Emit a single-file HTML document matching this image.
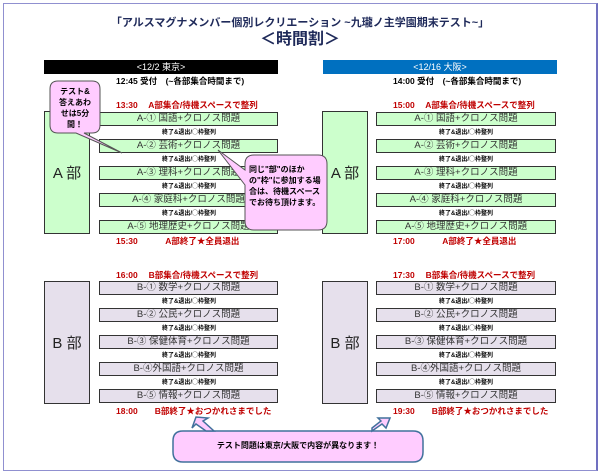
<!DOCTYPE html>
<html><head><meta charset="utf-8"><style>
*{margin:0;padding:0;box-sizing:border-box}
body{width:600px;height:474px;background:#fff;position:relative;overflow:hidden;font-family:"Liberation Sans","Noto Sans CJK JP",sans-serif}
.a{position:absolute}
.t{position:absolute;white-space:nowrap;line-height:1}
.big{position:absolute;border:1.5px solid #333;font-size:15px;display:flex;align-items:center;justify-content:center;color:#222}
.it{position:absolute;border:1.5px solid #333;font-size:9.5px;text-align:center;line-height:11px;color:#333;height:14px;overflow:hidden}
.g{background:#ccffcc}.p{background:#e6e0ec}
.gap{position:absolute;font-size:6px;font-weight:bold;text-align:center;width:180px;line-height:1}
.red{color:#c00000;font-weight:bold;font-size:8.5px}
.blk{font-weight:bold;font-size:8.5px;color:#000}
</style></head><body>
<div class="a" style="left:3px;top:3px;width:595px;height:468px;border:1px solid #9090d0;border-right:2px solid #7070c0"></div>
<div class="t" style="left:0;width:600px;text-align:center;top:18px;font-size:11px;font-weight:bold;color:#1f2a5a">「アルスマグナメンバー個別レクリエーション ~九瓏ノ主学園期末テスト~」</div>
<div class="t" style="left:0;width:600px;text-align:center;top:32px;font-size:16px;font-weight:bold;color:#1f2a5a">＜時間割＞</div>

<div class="a" style="left:44px;top:60px;width:234px;height:14px;background:#000;color:#fff;font-size:9px;text-align:center;line-height:14px">&lt;12/2 東京&gt;</div>
<div class="a" style="left:323px;top:60px;width:234px;height:14px;background:#0070c0;color:#fff;font-size:9px;text-align:center;line-height:14px">&lt;12/16 大阪&gt;</div>

<div class="t blk" style="left:116px;top:77px">12:45 受付　(~各部集合時間まで)</div>
<div class="t blk" style="left:393px;top:77px">14:00 受付　(~各部集合時間まで)</div>

<!-- A left -->
<div class="t red" style="left:116px;top:101px">13:30　 A部集合/待機スペースで整列</div>
<div class="big g" style="left:44px;top:111px;width:46px;height:123px">A 部</div>
<div class="it g" style="left:99px;top:112px;width:179px">A-① 国語+クロノス問題</div>
<div class="gap" style="left:99px;top:130px">終了&amp;退出/◯枠整列</div>
<div class="it g" style="left:99px;top:139px;width:179px">A-② 芸術+クロノス問題</div>
<div class="gap" style="left:99px;top:157px">終了&amp;退出/◯枠整列</div>
<div class="it g" style="left:99px;top:166px;width:179px">A-③ 理科+クロノス問題</div>
<div class="gap" style="left:99px;top:184px">終了&amp;退出/◯枠整列</div>
<div class="it g" style="left:99px;top:193px;width:179px">A-④ 家庭科+クロノス問題</div>
<div class="gap" style="left:99px;top:211px">終了&amp;退出/◯枠整列</div>
<div class="it g" style="left:99px;top:220px;width:179px">A-⑤ 地理歴史+クロノス問題</div>
<div class="t red" style="left:116px;top:237px">15:30　　　 A部終了★全員退出</div>

<!-- A right -->
<div class="t red" style="left:393px;top:101px">15:00　 A部集合/待機スペースで整列</div>
<div class="big g" style="left:322px;top:111px;width:46px;height:123px">A 部</div>
<div class="it g" style="left:376px;top:112px;width:180px">A-① 国語+クロノス問題</div>
<div class="gap" style="left:376px;top:130px">終了&amp;退出/◯枠整列</div>
<div class="it g" style="left:376px;top:139px;width:180px">A-② 芸術+クロノス問題</div>
<div class="gap" style="left:376px;top:157px">終了&amp;退出/◯枠整列</div>
<div class="it g" style="left:376px;top:166px;width:180px">A-③ 理科+クロノス問題</div>
<div class="gap" style="left:376px;top:184px">終了&amp;退出/◯枠整列</div>
<div class="it g" style="left:376px;top:193px;width:180px">A-④ 家庭科+クロノス問題</div>
<div class="gap" style="left:376px;top:211px">終了&amp;退出/◯枠整列</div>
<div class="it g" style="left:376px;top:220px;width:180px">A-⑤ 地理歴史+クロノス問題</div>
<div class="t red" style="left:393px;top:237px">17:00　　　 A部終了★全員退出</div>

<!-- B left -->
<div class="t red" style="left:116px;top:271px">16:00　 B部集合/待機スペースで整列</div>
<div class="big p" style="left:44px;top:281px;width:46px;height:123px">B 部</div>
<div class="it p" style="left:99px;top:281px;width:179px">B-① 数学+クロノス問題</div>
<div class="gap" style="left:99px;top:299px">終了&amp;退出/◯枠整列</div>
<div class="it p" style="left:99px;top:308px;width:179px">B-② 公民+クロノス問題</div>
<div class="gap" style="left:99px;top:326px">終了&amp;退出/◯枠整列</div>
<div class="it p" style="left:99px;top:335px;width:179px">B-③ 保健体育+クロノス問題</div>
<div class="gap" style="left:99px;top:353px">終了&amp;退出/◯枠整列</div>
<div class="it p" style="left:99px;top:362px;width:179px">B-④外国語+クロノス問題</div>
<div class="gap" style="left:99px;top:380px">終了&amp;退出/◯枠整列</div>
<div class="it p" style="left:99px;top:389px;width:179px">B-⑤ 情報+クロノス問題</div>
<div class="t red" style="left:116px;top:407px">18:00　　B部終了★おつかれさまでした</div>

<!-- B right -->
<div class="t red" style="left:393px;top:271px">17:30　 B部集合/待機スペースで整列</div>
<div class="big p" style="left:322px;top:281px;width:46px;height:123px">B 部</div>
<div class="it p" style="left:376px;top:281px;width:180px">B-① 数学+クロノス問題</div>
<div class="gap" style="left:376px;top:299px">終了&amp;退出/◯枠整列</div>
<div class="it p" style="left:376px;top:308px;width:180px">B-② 公民+クロノス問題</div>
<div class="gap" style="left:376px;top:326px">終了&amp;退出/◯枠整列</div>
<div class="it p" style="left:376px;top:335px;width:180px">B-③ 保健体育+クロノス問題</div>
<div class="gap" style="left:376px;top:353px">終了&amp;退出/◯枠整列</div>
<div class="it p" style="left:376px;top:362px;width:180px">B-④外国語+クロノス問題</div>
<div class="gap" style="left:376px;top:380px">終了&amp;退出/◯枠整列</div>
<div class="it p" style="left:376px;top:389px;width:180px">B-⑤ 情報+クロノス問題</div>
<div class="t red" style="left:393px;top:407px">19:30　　B部終了★おつかれさまでした</div>

<svg class="a" style="left:0;top:0" width="600" height="474">
 <g fill="#ffccff" stroke="#555" stroke-width="1">
  <path d="M58,81 H92 Q100,81 100,89 V125 Q100,133 92,133 H84 L122,153 L76,133 H58 Q50,133 50,125 V89 Q50,81 58,81 Z"/>
  <path d="M254,155 H318 Q327,155 327,164 V221 Q327,230 318,230 H254 Q245,230 245,221 V185 L218,150 L245,170 V164 Q245,155 254,155 Z"/>
 </g>
 <g fill="#ffccff" stroke="#41719c" stroke-width="1.5">
  <path d="M183,431 H413 Q423,431 423,441 V452 Q423,462 413,462 H183 Q173,462 173,452 V441 Q173,431 183,431 Z"/>
  <path d="M206,431 L196,424 L192,428 L196,417 L208,418 L203,421 L214,431 Z"/>
  <path d="M372,431 L382,424 L386,428 L390,418 L378,418 L381,421 L372,428 Z"/>
 </g>
</svg>
<div class="t" style="left:50px;top:86px;width:50px;text-align:center;font-size:8px;font-weight:bold;line-height:11px;white-space:normal">テスト&amp;<br>答えあわ<br>せは5分<br>間！</div>
<div class="t" style="left:249px;top:164px;width:76px;font-size:8px;font-weight:bold;line-height:11px;white-space:normal">同じ"部"のほかの"枠"に参加する場合は、待機スペースでお待ち頂けます。</div>
<div class="t" style="left:173px;top:442px;width:250px;text-align:center;font-size:8px;font-weight:bold">テスト問題は東京/大阪で内容が異なります！</div>
</body></html>
